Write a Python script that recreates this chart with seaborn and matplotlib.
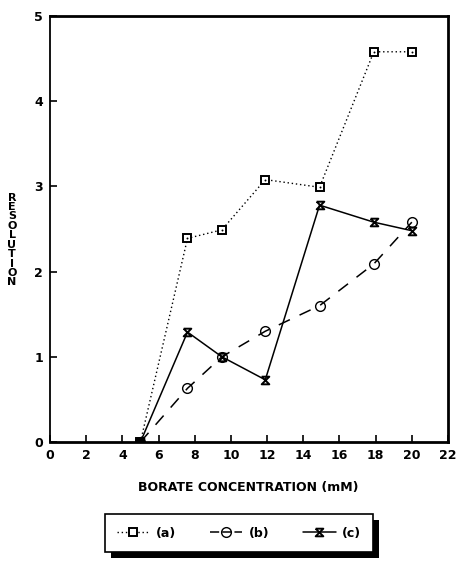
import matplotlib
matplotlib.use("Agg")
import matplotlib.pyplot as plt
import seaborn as sns
import numpy as np
import pandas as pd
from matplotlib.lines import Line2D
from matplotlib.patches import Rectangle

sns.set_style("white")
plt.rcParams['font.family'] = ['DejaVu Sans']
plt.rcParams['text.color'] = 'black'
plt.rcParams['xtick.color'] = 'black'
plt.rcParams['ytick.color'] = 'black'

# data
borate = [5, 7.6, 9.5, 11.9, 14.9, 17.9, 20.0]
res_a = [0.0, 2.39, 2.49, 3.08, 2.99, 4.58, 4.58]
res_b = [0.0, 0.63, 1.0, 1.3, 1.6, 2.09, 2.58]
res_c = [0.0, 1.29, 1.0, 0.73, 2.78, 2.58, 2.48]
series_labels = ["(a)", "(b)", "(c)"]
xticks = [0, 2, 4, 6, 8, 10, 12, 14, 16, 18, 20, 22]
yticks = [0, 1, 2, 3, 4, 5]
xlabel = "BORATE CONCENTRATION (mM)"
ylabel = "RESOLUTION"

hourglass = [(-1, 1), (1, 1), (-1, -1), (1, -1), (-1, 1)]
W = 'bold'

fig = plt.figure(figsize=(4.58, 5.63), dpi=100)
ax = fig.add_axes([50/458, 1-442/563, (448-50)/458, (442-16)/563])

sns.lineplot(x=borate, y=res_a, ax=ax, color='black', linestyle=(0, (1, 2)), linewidth=1.0,
             marker='s', markersize=6, markerfacecolor='white', markeredgecolor='black',
             markeredgewidth=1.4)
sns.scatterplot(x=borate, y=res_a, ax=ax, color='black', marker='o', s=2, linewidth=0, zorder=4)
sns.lineplot(x=borate, y=res_b, ax=ax, color='black', linestyle=(0, (8, 7)), linewidth=1.1,
             marker='o', markersize=7, markerfacecolor='none', markeredgecolor='black',
             markeredgewidth=1.0)
sns.lineplot(x=borate, y=res_c, ax=ax, color='black', linestyle='-', linewidth=1.1,
             marker=hourglass, markersize=5.5, markerfacecolor='none', markeredgecolor='black',
             markeredgewidth=1.4)
ax.plot([borate[0]], [0], marker='s', markersize=6, color='black', zorder=5)

ax.set_xlim(0, 22)
ax.set_ylim(0, 5)
ax.set_xticks(xticks)
ax.set_yticks(yticks)
ax.set_xticklabels([str(t) for t in xticks], fontweight=W, fontsize=9)
ax.set_yticklabels([str(t) for t in yticks], fontweight=W, fontsize=9)
ax.tick_params(direction='in', length=5, width=1.2, left=True, bottom=True, pad=5)
for s in ax.spines.values():
    s.set_visible(True)
    s.set_color('black')
ax.spines['left'].set_linewidth(1.3)
ax.spines['bottom'].set_linewidth(2.0)
ax.spines['top'].set_linewidth(2.0)
ax.spines['right'].set_linewidth(2.0)
ax.set_xlabel("")
ax.set_ylabel("")

fig.text(248/458, 1-488/563, xlabel, ha='center', va='center', fontweight=W, fontsize=9)
fig.text(12/458, 1-240/563, "\n".join(ylabel), ha='center', va='center', fontweight=W,
         fontsize=8, linespacing=0.93)

handles = [
    Line2D([], [], color='black', linestyle=(0, (1, 2)), linewidth=1.0, marker='s', markersize=6,
           markerfacecolor='white', markeredgecolor='black', markeredgewidth=1.4),
    Line2D([], [], color='black', linestyle=(0, (6, 2)), linewidth=1.1, marker='o', markersize=7,
           markerfacecolor='none', markeredgecolor='black'),
    Line2D([], [], color='black', linestyle='-', linewidth=1.1, marker=hourglass, markersize=5.5,
           markerfacecolor='none', markeredgecolor='black', markeredgewidth=1.4),
]
leg = fig.legend(handles, series_labels, loc='center', bbox_to_anchor=(239/458, 1-533/563),
                 ncol=3, frameon=True, fancybox=False, edgecolor='black', facecolor='white',
                 framealpha=1.0,
                 prop={'weight': W, 'size': 9}, handlelength=2.6, columnspacing=2.7,
                 borderpad=1.0, handletextpad=0.5)
leg.get_frame().set_linewidth(1.2)

fig.canvas.draw()
bb = leg.get_window_extent().transformed(fig.transFigure.inverted())
off_x, off_y = 6/458, 6/563
fig.patches.append(Rectangle((bb.x0 + off_x, bb.y0 - off_y), bb.width, bb.height,
                             transform=fig.transFigure, facecolor='black', edgecolor='none',
                             zorder=0))
leg.set_zorder(5)

fig.savefig("out.png", dpi=100, facecolor='white')
